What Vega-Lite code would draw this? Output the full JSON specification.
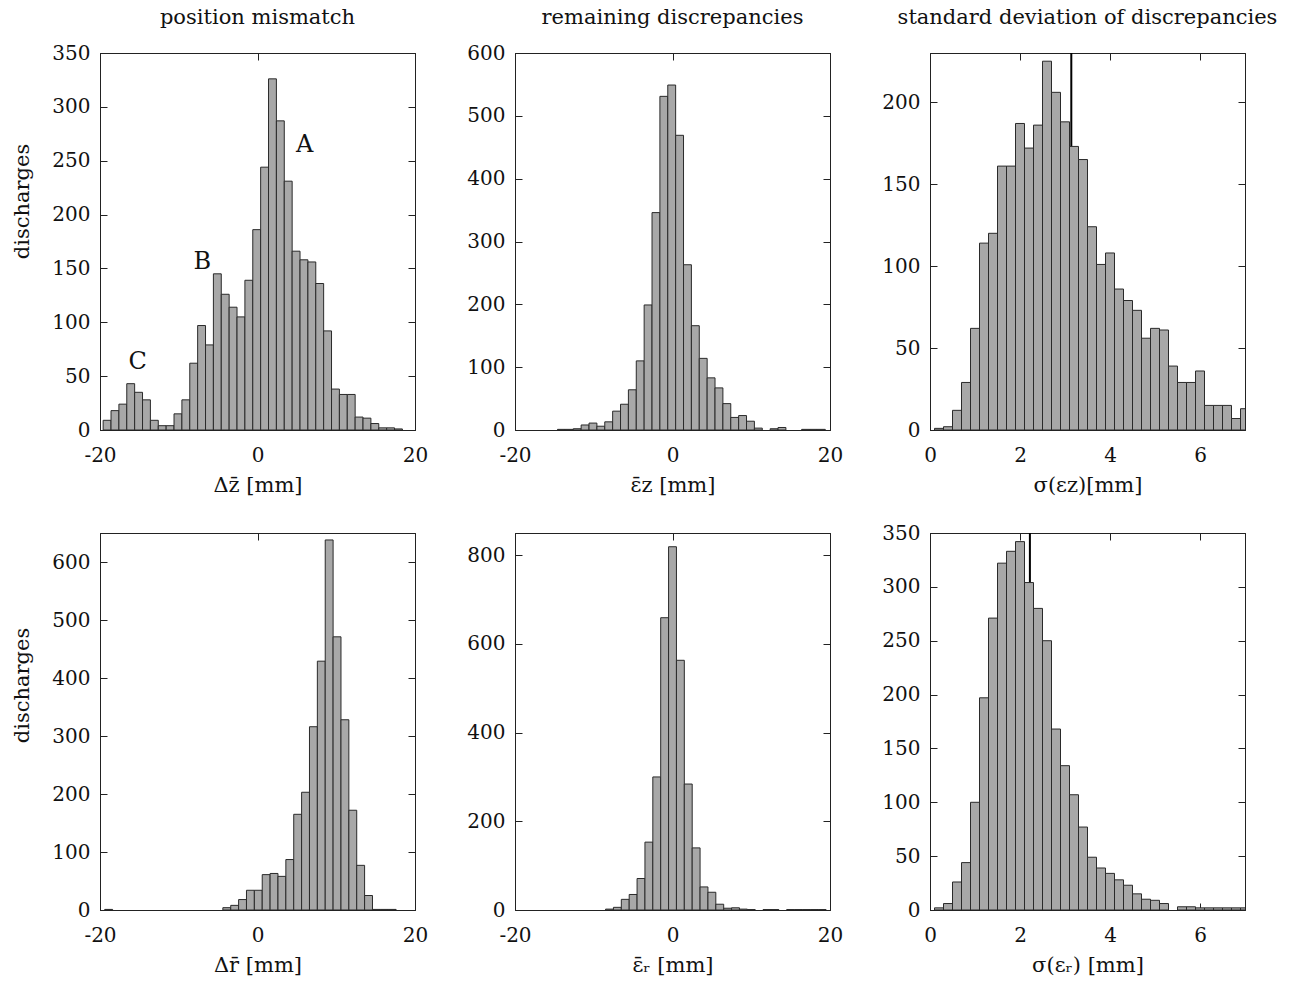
{
  "$schema": "https://vega.github.io/schema/vega-lite/v6.json",
  "background": "white",
  "padding": {"left": 10, "top": 6, "right": 5, "bottom": 30},
  "datasets": {
    "p1": [
      {"x0": -19.6, "x1": -18.6, "n": 9}, {"x0": -18.6, "x1": -17.6, "n": 18}, {"x0": -17.6, "x1": -16.6, "n": 24},
      {"x0": -16.6, "x1": -15.6, "n": 43}, {"x0": -15.6, "x1": -14.6, "n": 35}, {"x0": -14.6, "x1": -13.6, "n": 28},
      {"x0": -13.6, "x1": -12.6, "n": 9}, {"x0": -12.6, "x1": -11.6, "n": 4}, {"x0": -11.6, "x1": -10.6, "n": 4},
      {"x0": -10.6, "x1": -9.6, "n": 15}, {"x0": -9.6, "x1": -8.6, "n": 28}, {"x0": -8.6, "x1": -7.6, "n": 62},
      {"x0": -7.6, "x1": -6.6, "n": 97}, {"x0": -6.6, "x1": -5.6, "n": 79}, {"x0": -5.6, "x1": -4.6, "n": 145},
      {"x0": -4.6, "x1": -3.6, "n": 126}, {"x0": -3.6, "x1": -2.6, "n": 114}, {"x0": -2.6, "x1": -1.6, "n": 105},
      {"x0": -1.6, "x1": -0.6, "n": 139}, {"x0": -0.6, "x1": 0.4, "n": 186}, {"x0": 0.4, "x1": 1.4, "n": 244},
      {"x0": 1.4, "x1": 2.4, "n": 326}, {"x0": 2.4, "x1": 3.4, "n": 287}, {"x0": 3.4, "x1": 4.4, "n": 231},
      {"x0": 4.4, "x1": 5.4, "n": 166}, {"x0": 5.4, "x1": 6.4, "n": 158}, {"x0": 6.4, "x1": 7.4, "n": 156},
      {"x0": 7.4, "x1": 8.4, "n": 136}, {"x0": 8.4, "x1": 9.4, "n": 92}, {"x0": 9.4, "x1": 10.4, "n": 38},
      {"x0": 10.4, "x1": 11.4, "n": 33}, {"x0": 11.4, "x1": 12.4, "n": 33}, {"x0": 12.4, "x1": 13.4, "n": 12},
      {"x0": 13.4, "x1": 14.4, "n": 11}, {"x0": 14.4, "x1": 15.4, "n": 6}, {"x0": 15.4, "x1": 16.4, "n": 2},
      {"x0": 16.4, "x1": 17.4, "n": 2}, {"x0": 17.4, "x1": 18.4, "n": 1}
    ],
    "ann": [
      {"label": "A", "x": 6.0, "y": 265},
      {"label": "B", "x": -7.0, "y": 156},
      {"label": "C", "x": -15.2, "y": 63}
    ],
    "p2": [
      {"x0": -14.6, "x1": -13.6, "n": 1}, {"x0": -13.6, "x1": -12.6, "n": 1}, {"x0": -12.6, "x1": -11.6, "n": 2},
      {"x0": -11.6, "x1": -10.6, "n": 8}, {"x0": -10.6, "x1": -9.6, "n": 11}, {"x0": -9.6, "x1": -8.6, "n": 6},
      {"x0": -8.6, "x1": -7.6, "n": 13}, {"x0": -7.6, "x1": -6.6, "n": 30}, {"x0": -6.6, "x1": -5.6, "n": 41},
      {"x0": -5.6, "x1": -4.6, "n": 64}, {"x0": -4.6, "x1": -3.6, "n": 110}, {"x0": -3.6, "x1": -2.6, "n": 199},
      {"x0": -2.6, "x1": -1.6, "n": 346}, {"x0": -1.6, "x1": -0.6, "n": 531}, {"x0": -0.6, "x1": 0.4, "n": 549},
      {"x0": 0.4, "x1": 1.4, "n": 469}, {"x0": 1.4, "x1": 2.4, "n": 263}, {"x0": 2.4, "x1": 3.4, "n": 166},
      {"x0": 3.4, "x1": 4.4, "n": 114}, {"x0": 4.4, "x1": 5.4, "n": 83}, {"x0": 5.4, "x1": 6.4, "n": 67},
      {"x0": 6.4, "x1": 7.4, "n": 42}, {"x0": 7.4, "x1": 8.4, "n": 20}, {"x0": 8.4, "x1": 9.4, "n": 23},
      {"x0": 9.4, "x1": 10.4, "n": 14}, {"x0": 10.4, "x1": 11.4, "n": 3}, {"x0": 12.4, "x1": 13.4, "n": 2},
      {"x0": 13.4, "x1": 14.4, "n": 4}, {"x0": 16.4, "x1": 17.4, "n": 1}, {"x0": 17.4, "x1": 18.4, "n": 1},
      {"x0": 18.4, "x1": 19.4, "n": 1}
    ],
    "p3": [
      {"x0": 0.1, "x1": 0.3, "n": 1}, {"x0": 0.3, "x1": 0.5, "n": 2}, {"x0": 0.5, "x1": 0.7, "n": 12},
      {"x0": 0.7, "x1": 0.9, "n": 29}, {"x0": 0.9, "x1": 1.1, "n": 62}, {"x0": 1.1, "x1": 1.3, "n": 114},
      {"x0": 1.3, "x1": 1.5, "n": 120}, {"x0": 1.5, "x1": 1.7, "n": 161}, {"x0": 1.7, "x1": 1.9, "n": 161},
      {"x0": 1.9, "x1": 2.1, "n": 187}, {"x0": 2.1, "x1": 2.3, "n": 172}, {"x0": 2.3, "x1": 2.5, "n": 186},
      {"x0": 2.5, "x1": 2.7, "n": 225}, {"x0": 2.7, "x1": 2.9, "n": 206}, {"x0": 2.9, "x1": 3.1, "n": 188},
      {"x0": 3.1, "x1": 3.3, "n": 173}, {"x0": 3.3, "x1": 3.5, "n": 165}, {"x0": 3.5, "x1": 3.7, "n": 124},
      {"x0": 3.7, "x1": 3.9, "n": 101}, {"x0": 3.9, "x1": 4.1, "n": 108}, {"x0": 4.1, "x1": 4.3, "n": 86},
      {"x0": 4.3, "x1": 4.5, "n": 79}, {"x0": 4.5, "x1": 4.7, "n": 73}, {"x0": 4.7, "x1": 4.9, "n": 56},
      {"x0": 4.9, "x1": 5.1, "n": 62}, {"x0": 5.1, "x1": 5.3, "n": 61}, {"x0": 5.3, "x1": 5.5, "n": 39},
      {"x0": 5.5, "x1": 5.7, "n": 29}, {"x0": 5.7, "x1": 5.9, "n": 29}, {"x0": 5.9, "x1": 6.1, "n": 36},
      {"x0": 6.1, "x1": 6.3, "n": 15}, {"x0": 6.3, "x1": 6.5, "n": 15}, {"x0": 6.5, "x1": 6.7, "n": 15},
      {"x0": 6.7, "x1": 6.9, "n": 7}, {"x0": 6.9, "x1": 7.1, "n": 13}
    ],
    "p4": [
      {"x0": -19.4, "x1": -18.4, "n": 1},
      {"x0": -4.4, "x1": -3.4, "n": 4}, {"x0": -3.4, "x1": -2.4, "n": 8}, {"x0": -2.4, "x1": -1.4, "n": 18},
      {"x0": -1.4, "x1": -0.4, "n": 34}, {"x0": -0.4, "x1": 0.6, "n": 34}, {"x0": 0.6, "x1": 1.6, "n": 61},
      {"x0": 1.6, "x1": 2.6, "n": 63}, {"x0": 2.6, "x1": 3.6, "n": 58}, {"x0": 3.6, "x1": 4.6, "n": 87},
      {"x0": 4.6, "x1": 5.6, "n": 165}, {"x0": 5.6, "x1": 6.6, "n": 203}, {"x0": 6.6, "x1": 7.6, "n": 316},
      {"x0": 7.6, "x1": 8.6, "n": 429}, {"x0": 8.6, "x1": 9.6, "n": 638}, {"x0": 9.6, "x1": 10.6, "n": 471},
      {"x0": 10.6, "x1": 11.6, "n": 328}, {"x0": 11.6, "x1": 12.6, "n": 172}, {"x0": 12.6, "x1": 13.6, "n": 77},
      {"x0": 13.6, "x1": 14.6, "n": 25}, {"x0": 14.6, "x1": 15.6, "n": 1}, {"x0": 15.6, "x1": 16.6, "n": 1},
      {"x0": 16.6, "x1": 17.6, "n": 1}
    ],
    "p5": [
      {"x0": -8.5, "x1": -7.5, "n": 2}, {"x0": -7.5, "x1": -6.5, "n": 6}, {"x0": -6.5, "x1": -5.5, "n": 24},
      {"x0": -5.5, "x1": -4.5, "n": 35}, {"x0": -4.5, "x1": -3.5, "n": 71}, {"x0": -3.5, "x1": -2.5, "n": 153},
      {"x0": -2.5, "x1": -1.5, "n": 300}, {"x0": -1.5, "x1": -0.5, "n": 659}, {"x0": -0.5, "x1": 0.5, "n": 819},
      {"x0": 0.5, "x1": 1.5, "n": 563}, {"x0": 1.5, "x1": 2.5, "n": 284}, {"x0": 2.5, "x1": 3.5, "n": 140},
      {"x0": 3.5, "x1": 4.5, "n": 52}, {"x0": 4.5, "x1": 5.5, "n": 40}, {"x0": 5.5, "x1": 6.5, "n": 13},
      {"x0": 6.5, "x1": 7.5, "n": 4}, {"x0": 7.5, "x1": 8.5, "n": 5}, {"x0": 8.5, "x1": 9.5, "n": 2},
      {"x0": 9.5, "x1": 10.5, "n": 1}, {"x0": 11.5, "x1": 12.5, "n": 1}, {"x0": 12.5, "x1": 13.5, "n": 1},
      {"x0": 14.5, "x1": 15.5, "n": 1}, {"x0": 15.5, "x1": 16.5, "n": 1}, {"x0": 16.5, "x1": 17.5, "n": 1},
      {"x0": 17.5, "x1": 18.5, "n": 1}, {"x0": 18.5, "x1": 19.5, "n": 1}
    ],
    "p6": [
      {"x0": 0.1, "x1": 0.3, "n": 2}, {"x0": 0.3, "x1": 0.5, "n": 6}, {"x0": 0.5, "x1": 0.7, "n": 26},
      {"x0": 0.7, "x1": 0.9, "n": 44}, {"x0": 0.9, "x1": 1.1, "n": 100}, {"x0": 1.1, "x1": 1.3, "n": 197},
      {"x0": 1.3, "x1": 1.5, "n": 271}, {"x0": 1.5, "x1": 1.7, "n": 322}, {"x0": 1.7, "x1": 1.9, "n": 333},
      {"x0": 1.9, "x1": 2.1, "n": 342}, {"x0": 2.1, "x1": 2.3, "n": 304}, {"x0": 2.3, "x1": 2.5, "n": 280},
      {"x0": 2.5, "x1": 2.7, "n": 250}, {"x0": 2.7, "x1": 2.9, "n": 168}, {"x0": 2.9, "x1": 3.1, "n": 134},
      {"x0": 3.1, "x1": 3.3, "n": 107}, {"x0": 3.3, "x1": 3.5, "n": 77}, {"x0": 3.5, "x1": 3.7, "n": 49},
      {"x0": 3.7, "x1": 3.9, "n": 39}, {"x0": 3.9, "x1": 4.1, "n": 34}, {"x0": 4.1, "x1": 4.3, "n": 28},
      {"x0": 4.3, "x1": 4.5, "n": 23}, {"x0": 4.5, "x1": 4.7, "n": 15}, {"x0": 4.7, "x1": 4.9, "n": 10},
      {"x0": 4.9, "x1": 5.1, "n": 9}, {"x0": 5.1, "x1": 5.3, "n": 6}, {"x0": 5.5, "x1": 5.7, "n": 3},
      {"x0": 5.7, "x1": 5.9, "n": 3}, {"x0": 5.9, "x1": 6.1, "n": 2}, {"x0": 6.1, "x1": 6.3, "n": 2},
      {"x0": 6.3, "x1": 6.5, "n": 2}, {"x0": 6.5, "x1": 6.7, "n": 2}, {"x0": 6.7, "x1": 6.9, "n": 2},
      {"x0": 6.9, "x1": 7.1, "n": 2}
    ],
    "means": [
      {"panel": "z", "m": 3.14},
      {"panel": "r", "m": 2.22}
    ]
  },
  "columns": 3,
  "spacing": {"row": 103, "column": 100},
  "bounds": "flush",
  "concat": [
    {
      "width": 315, "height": 377,
      "title": {"text": "position mismatch", "frame": "group", "offset": 15},
      "layer": [
        {
          "data": {"name": "p1"},
          "mark": {"type": "bar", "fill": "#a8a8a8", "stroke": "#2a2a2a", "strokeWidth": 1, "clip": true},
          "encoding": {
            "x": {"field": "x0", "type": "quantitative", "scale": {"domain": [-20, 20], "nice": false, "zero": false},
                  "axis": {"orient": "bottom", "values": [-20, 0, 20], "title": "Δz̄ [mm]", "labelExpr": "replace(datum.label, '−', '-')"}},
            "x2": {"field": "x1"},
            "y": {"field": "n", "type": "quantitative", "scale": {"domain": [0, 350], "nice": false},
                  "axis": {"orient": "left", "values": [0, 50, 100, 150, 200, 250, 300, 350], "title": "discharges", "titleX": -78, "titleY": 148, "titleBaseline": "middle", "titleAngle": -90}},
            "y2": {"datum": 0}
          }
        },
        {
          "data": {"name": "p1"},
          "mark": {"type": "point", "opacity": 0},
          "encoding": {
            "x": {"field": "x0", "type": "quantitative", "scale": {"domain": [-20, 20], "nice": false, "zero": false},
                  "axis": {"orient": "top", "values": [-20, 0, 20], "title": null}},
            "y": {"field": "n", "type": "quantitative", "scale": {"domain": [0, 350], "nice": false},
                  "axis": {"orient": "right", "values": [0, 50, 100, 150, 200, 250, 300, 350], "title": null}}
          }
        },
        {
          "data": {"name": "ann"},
          "mark": {"type": "text", "font": "DejaVu Serif", "fontSize": 24, "color": "#111"},
          "encoding": {
            "x": {"field": "x", "type": "quantitative", "scale": {"domain": [-20, 20], "nice": false, "zero": false}, "axis": null},
            "y": {"field": "y", "type": "quantitative", "scale": {"domain": [0, 350], "nice": false}, "axis": null},
            "text": {"field": "label"}
          }
        }
      ],
      "resolve": {"axis": {"x": "independent", "y": "independent"}}
    },
    {
      "width": 315, "height": 377,
      "title": {"text": "remaining discrepancies", "frame": "group", "offset": 15},
      "data": {"name": "p2"},
      "layer": [
        {
          "mark": {"type": "bar", "fill": "#a8a8a8", "stroke": "#2a2a2a", "strokeWidth": 1, "clip": true},
          "encoding": {
            "x": {"field": "x0", "type": "quantitative", "scale": {"domain": [-20, 20], "nice": false, "zero": false},
                  "axis": {"orient": "bottom", "values": [-20, 0, 20], "title": "ε̄z [mm]", "labelExpr": "replace(datum.label, '−', '-')"}},
            "x2": {"field": "x1"},
            "y": {"field": "n", "type": "quantitative", "scale": {"domain": [0, 600], "nice": false},
                  "axis": {"orient": "left", "values": [0, 100, 200, 300, 400, 500, 600], "title": null}},
            "y2": {"datum": 0}
          }
        },
        {
          "mark": {"type": "point", "opacity": 0},
          "encoding": {
            "x": {"field": "x0", "type": "quantitative", "scale": {"domain": [-20, 20], "nice": false, "zero": false},
                  "axis": {"orient": "top", "values": [-20, 0, 20], "title": null}},
            "y": {"field": "n", "type": "quantitative", "scale": {"domain": [0, 600], "nice": false},
                  "axis": {"orient": "right", "values": [0, 100, 200, 300, 400, 500, 600], "title": null}}
          }
        }
      ],
      "resolve": {"axis": {"x": "independent", "y": "independent"}}
    },
    {
      "width": 315, "height": 377,
      "title": {"text": "standard deviation of discrepancies", "frame": "group", "offset": 24},
      "layer": [
        {
          "data": {"name": "means"},
          "transform": [{"filter": "datum.panel == 'z'"}],
          "mark": {"type": "rule", "color": "#000", "strokeWidth": 2},
          "encoding": {
            "x": {"field": "m", "type": "quantitative", "scale": {"domain": [0, 7], "nice": false, "zero": false}, "axis": null}
          }
        },
        {
          "data": {"name": "p3"},
          "mark": {"type": "bar", "fill": "#a8a8a8", "stroke": "#2a2a2a", "strokeWidth": 1, "clip": true},
          "encoding": {
            "x": {"field": "x0", "type": "quantitative", "scale": {"domain": [0, 7], "nice": false, "zero": false},
                  "axis": {"orient": "bottom", "values": [0, 2, 4, 6], "title": "σ(εz)[mm]"}},
            "x2": {"field": "x1"},
            "y": {"field": "n", "type": "quantitative", "scale": {"domain": [0, 230], "nice": false},
                  "axis": {"orient": "left", "values": [0, 50, 100, 150, 200], "title": null}},
            "y2": {"datum": 0}
          }
        },
        {
          "data": {"name": "p3"},
          "mark": {"type": "point", "opacity": 0},
          "encoding": {
            "x": {"field": "x0", "type": "quantitative", "scale": {"domain": [0, 7], "nice": false, "zero": false},
                  "axis": {"orient": "top", "values": [0, 2, 4, 6], "title": null}},
            "y": {"field": "n", "type": "quantitative", "scale": {"domain": [0, 230], "nice": false},
                  "axis": {"orient": "right", "values": [0, 50, 100, 150, 200], "title": null}}
          }
        }
      ],
      "resolve": {"axis": {"x": "independent", "y": "independent"}}
    },
    {
      "width": 315, "height": 377,
      "data": {"name": "p4"},
      "layer": [
        {
          "mark": {"type": "bar", "fill": "#a8a8a8", "stroke": "#2a2a2a", "strokeWidth": 1, "clip": true},
          "encoding": {
            "x": {"field": "x0", "type": "quantitative", "scale": {"domain": [-20, 20], "nice": false, "zero": false},
                  "axis": {"orient": "bottom", "values": [-20, 0, 20], "title": "Δr̄ [mm]", "labelExpr": "replace(datum.label, '−', '-')"}},
            "x2": {"field": "x1"},
            "y": {"field": "n", "type": "quantitative", "scale": {"domain": [0, 650], "nice": false},
                  "axis": {"orient": "left", "values": [0, 100, 200, 300, 400, 500, 600], "title": "discharges", "titleX": -78, "titleY": 152, "titleBaseline": "middle", "titleAngle": -90}},
            "y2": {"datum": 0}
          }
        },
        {
          "mark": {"type": "point", "opacity": 0},
          "encoding": {
            "x": {"field": "x0", "type": "quantitative", "scale": {"domain": [-20, 20], "nice": false, "zero": false},
                  "axis": {"orient": "top", "values": [-20, 0, 20], "title": null}},
            "y": {"field": "n", "type": "quantitative", "scale": {"domain": [0, 650], "nice": false},
                  "axis": {"orient": "right", "values": [0, 100, 200, 300, 400, 500, 600], "title": null}}
          }
        }
      ],
      "resolve": {"axis": {"x": "independent", "y": "independent"}}
    },
    {
      "width": 315, "height": 377,
      "data": {"name": "p5"},
      "layer": [
        {
          "mark": {"type": "bar", "fill": "#a8a8a8", "stroke": "#2a2a2a", "strokeWidth": 1, "clip": true},
          "encoding": {
            "x": {"field": "x0", "type": "quantitative", "scale": {"domain": [-20, 20], "nice": false, "zero": false},
                  "axis": {"orient": "bottom", "values": [-20, 0, 20], "title": "ε̄ᵣ [mm]", "labelExpr": "replace(datum.label, '−', '-')"}},
            "x2": {"field": "x1"},
            "y": {"field": "n", "type": "quantitative", "scale": {"domain": [0, 850], "nice": false},
                  "axis": {"orient": "left", "values": [0, 200, 400, 600, 800], "title": null}},
            "y2": {"datum": 0}
          }
        },
        {
          "mark": {"type": "point", "opacity": 0},
          "encoding": {
            "x": {"field": "x0", "type": "quantitative", "scale": {"domain": [-20, 20], "nice": false, "zero": false},
                  "axis": {"orient": "top", "values": [-20, 0, 20], "title": null}},
            "y": {"field": "n", "type": "quantitative", "scale": {"domain": [0, 850], "nice": false},
                  "axis": {"orient": "right", "values": [0, 200, 400, 600, 800], "title": null}}
          }
        }
      ],
      "resolve": {"axis": {"x": "independent", "y": "independent"}}
    },
    {
      "width": 315, "height": 377,
      "layer": [
        {
          "data": {"name": "means"},
          "transform": [{"filter": "datum.panel == 'r'"}],
          "mark": {"type": "rule", "color": "#000", "strokeWidth": 2},
          "encoding": {
            "x": {"field": "m", "type": "quantitative", "scale": {"domain": [0, 7], "nice": false, "zero": false}, "axis": null}
          }
        },
        {
          "data": {"name": "p6"},
          "mark": {"type": "bar", "fill": "#a8a8a8", "stroke": "#2a2a2a", "strokeWidth": 1, "clip": true},
          "encoding": {
            "x": {"field": "x0", "type": "quantitative", "scale": {"domain": [0, 7], "nice": false, "zero": false},
                  "axis": {"orient": "bottom", "values": [0, 2, 4, 6], "title": "σ(εᵣ) [mm]"}},
            "x2": {"field": "x1"},
            "y": {"field": "n", "type": "quantitative", "scale": {"domain": [0, 350], "nice": false},
                  "axis": {"orient": "left", "values": [0, 50, 100, 150, 200, 250, 300, 350], "title": null}},
            "y2": {"datum": 0}
          }
        },
        {
          "data": {"name": "p6"},
          "mark": {"type": "point", "opacity": 0},
          "encoding": {
            "x": {"field": "x0", "type": "quantitative", "scale": {"domain": [0, 7], "nice": false, "zero": false},
                  "axis": {"orient": "top", "values": [0, 2, 4, 6], "title": null}},
            "y": {"field": "n", "type": "quantitative", "scale": {"domain": [0, 350], "nice": false},
                  "axis": {"orient": "right", "values": [0, 50, 100, 150, 200, 250, 300, 350], "title": null}}
          }
        }
      ],
      "resolve": {"axis": {"x": "independent", "y": "independent"}}
    }
  ],
  "config": {
    "font": "DejaVu Serif",
    "view": {"stroke": "#222", "strokeWidth": 1},
    "axis": {
      "labelFont": "DejaVu Serif", "labelFontSize": 20, "labelColor": "#111",
      "titleFont": "DejaVu Serif", "titleFontSize": 21, "titleFontWeight": "normal", "titleColor": "#111",
      "domainColor": "#222", "tickColor": "#222", "tickSize": -7, "grid": false,
      "labelFlush": false, "labelOverlap": false
    },
    "axisBottom": {"labelPadding": 22, "titleY": 55, "titleBaseline": "middle"},
    "axisLeft": {"labelPadding": 17},
    "axisTop": {"labels": false},
    "axisRight": {"labels": false},
    "title": {"font": "DejaVu Serif", "fontSize": 21, "fontWeight": "normal", "color": "#111", "baseline": "alphabetic"}
  }
}
